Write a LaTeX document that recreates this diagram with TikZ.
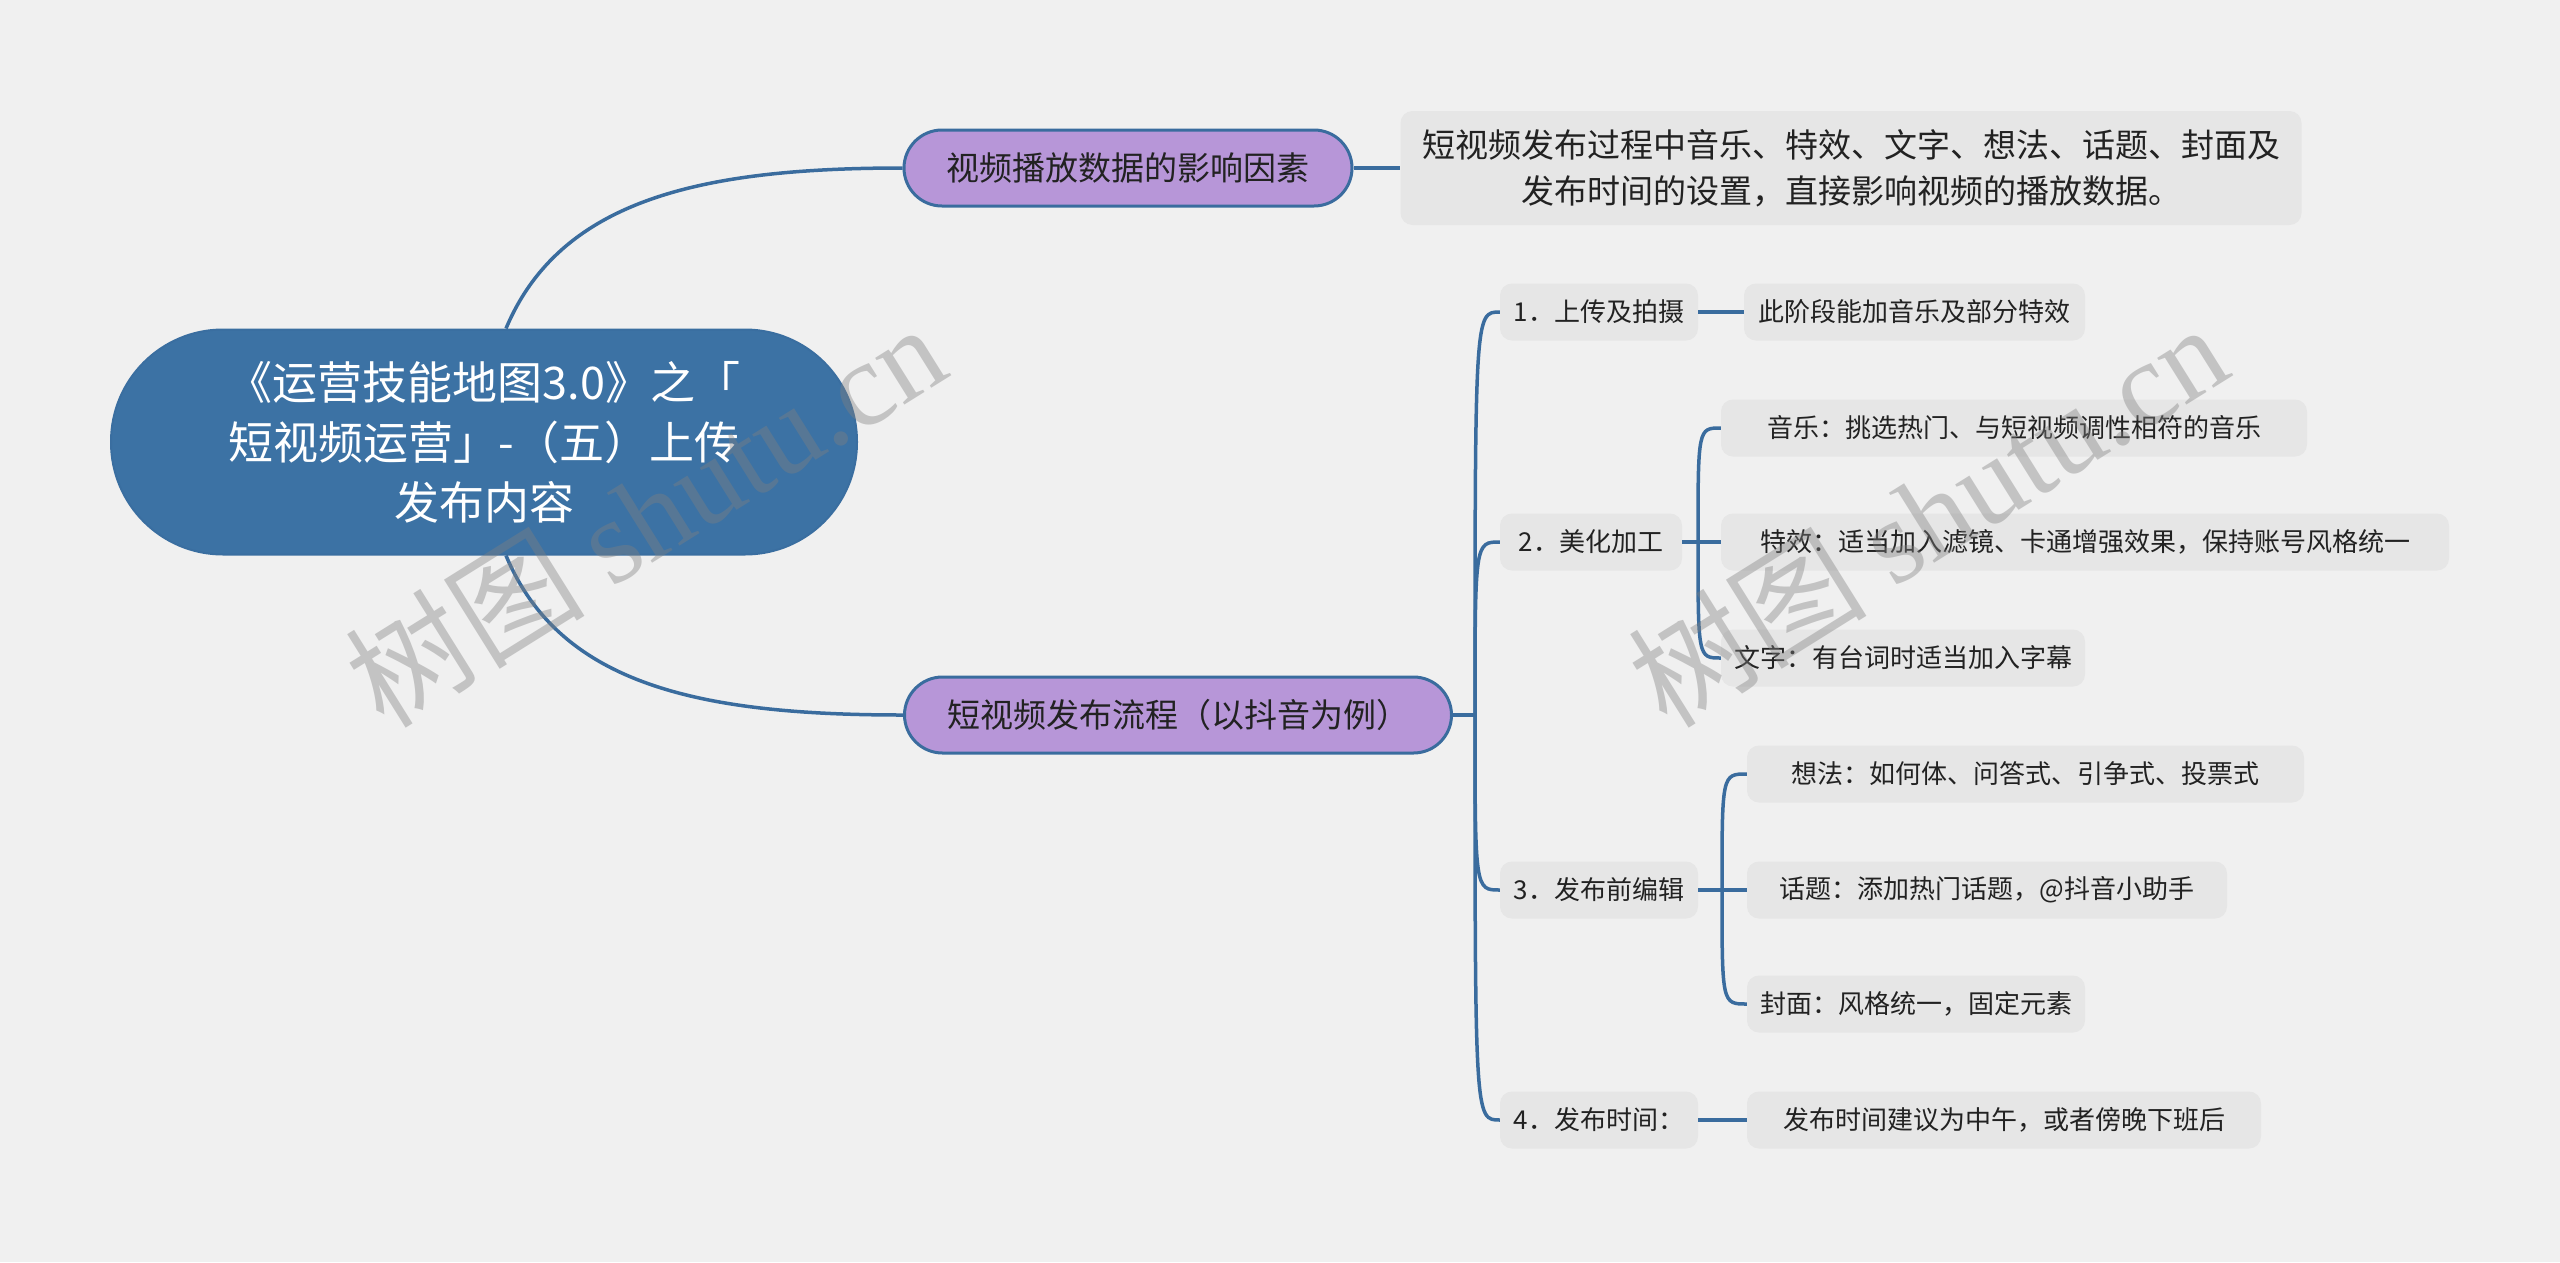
\documentclass[tikz,border=0pt]{standalone}
\usepackage{fontspec}
\setmainfont{Noto Sans CJK SC}
\newfontfamily\wmserif{Liberation Serif}
\usetikzlibrary{calc}
\definecolor{bg}{HTML}{F0F0F0}
\definecolor{rootblue}{HTML}{3C72A4}
\definecolor{rootedge}{HTML}{3A6EA0}
\definecolor{purp}{HTML}{B796D8}
\definecolor{edgeblue}{HTML}{3A6C9E}
\definecolor{boxgray}{HTML}{E6E6E6}
\definecolor{txt}{HTML}{222222}
\begin{document}
\begin{tikzpicture}[x=1pt,y=-1pt,
  conn/.style={draw=edgeblue, line width=3.5pt},
  rootnode/.style={rectangle, rounded corners=112pt, fill=rootblue, draw=rootedge, line width=2pt, minimum width=746pt, minimum height=225pt, text=white, align=center, font=\fontsize{45}{60}\selectfont, inner sep=0pt},
  topic/.style={rectangle, rounded corners=38pt, fill=purp, draw=edgeblue, line width=3pt, minimum height=76pt, text=txt, font=\fontsize{33}{46}\selectfont, inner sep=0pt},
  descbox/.style={rectangle, rounded corners=12pt, fill=boxgray, minimum height=114pt, text=txt, align=center, font=\fontsize{33}{46}\selectfont, inner sep=0pt},
  leaf/.style={rectangle, rounded corners=12pt, fill=boxgray, minimum height=57pt, text=txt, font=\fontsize{26}{32}\selectfont, inner sep=0pt},
  wm/.style={text=gray, opacity=0.4, rotate=32, font=\fontsize{120}{120}\selectfont, inner sep=0pt}
]
\fill[bg] (0,0) rectangle (2560,1262);
\useasboundingbox (0,0) rectangle (2560,1262);

% nodes
\node[rootnode] (root) at (484,442) {《运营技能地图3.0》之「\\短视频运营」-（五）上传\\发布内容};
\node[topic, minimum width=448pt] (A) at (1128,168) {视频播放数据的影响因素};
\node[descbox, minimum width=901pt] (D) at (1851,168) {短视频发布过程中音乐、特效、文字、想法、话题、封面及\\发布时间的设置，直接影响视频的播放数据。};
\node[topic, minimum width=547pt] (B) at (1178,715) {短视频发布流程（以抖音为例）};

\node[leaf, minimum width=198pt] (n1) at (1599,312) {1．上传及拍摄};
\node[leaf, minimum width=182pt] (n2) at (1591,542) {2．美化加工};
\node[leaf, minimum width=198pt] (n3) at (1599,890) {3．发布前编辑};
\node[leaf, minimum width=198pt] (n4) at (1599,1120) {4．发布时间：};

\node[leaf, minimum width=341pt] (c1) at (1914.5,312) {此阶段能加音乐及部分特效};
\node[leaf, minimum width=586pt] (m1) at (2014,428) {音乐：挑选热门、与短视频调性相符的音乐};
\node[leaf, minimum width=728pt] (m2) at (2085,542) {特效：适当加入滤镜、卡通增强效果，保持账号风格统一};
\node[leaf, minimum width=364pt] (m3) at (1903,658) {文字：有台词时适当加入字幕};
\node[leaf, minimum width=557pt] (t1) at (2025.5,774) {想法：如何体、问答式、引争式、投票式};
\node[leaf, minimum width=480pt] (t2) at (1987,890) {话题：添加热门话题，@抖音小助手};
\node[leaf, minimum width=338pt] (t3) at (1916,1004) {封面：风格统一，固定元素};
\node[leaf, minimum width=514pt] (d1) at (2004,1120) {发布时间建议为中午，或者傍晚下班后};

% connectors
\draw[conn] ($(root.north)+(22,0)$) .. controls (560,200) and (700,168) .. (A.west);
\draw[conn] ($(root.south)+(22,0)$) .. controls (560,685) and (700,715) .. (B.west);
\draw[conn] (A.east) -- (D.west);

\coordinate (H) at (1475,715);
\draw[conn] (B.east) -- (H);
\foreach \n in {n1,n2,n3,n4} \draw[conn] (H) .. controls (H |- \n.west) .. (\n.west);

\draw[conn] (n1.east) -- (c1.west);

\coordinate (H2) at (1698,542);
\draw[conn] (n2.east) -- (H2);
\foreach \n in {m1,m2,m3} \draw[conn] (H2) .. controls (H2 |- \n.west) .. (\n.west);

\coordinate (H3) at (1722,890);
\draw[conn] (n3.east) -- (H3);
\foreach \n in {t1,t2,t3} \draw[conn] (H3) .. controls (H3 |- \n.west) .. (\n.west);

\draw[conn] (n4.east) -- (d1.west);

% watermarks
\node[wm] (w1) at (645,514) {树图 {\wmserif shutu.cn}};
\node[wm] (w2) at (1927,514) {树图 {\wmserif shutu.cn}};
\end{tikzpicture}
\end{document}
